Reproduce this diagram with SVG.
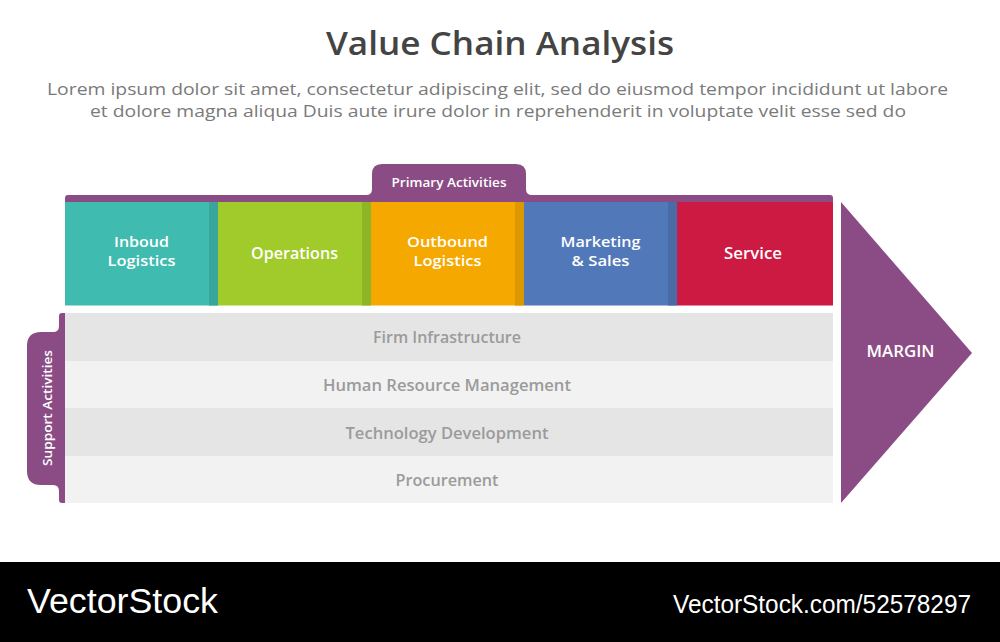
<svg xmlns="http://www.w3.org/2000/svg" width="1000" height="642" viewBox="0 0 1000 642">
  <style>
    .title{font-family:"Open Sans","Noto Sans",sans-serif;font-weight:600;font-size:32px;fill:#444444}
    .sub{font-family:"Open Sans","Noto Sans",sans-serif;font-weight:400;font-size:17px;fill:#7a7a7a}
    .lbl{font-family:"Open Sans","Noto Sans",sans-serif;font-weight:600;font-size:15.5px;fill:#ffffff}
    .lbl2{font-family:"Open Sans","Noto Sans",sans-serif;font-weight:600;font-size:14px;fill:#ffffff}
    .tab{font-family:"Open Sans","Noto Sans",sans-serif;font-weight:600;font-size:12.5px;fill:#ffffff}
    .row{font-family:"Open Sans","Noto Sans",sans-serif;font-weight:600;font-size:15.5px;fill:#9b9b9b}
    .brand{font-family:"Liberation Sans",Arial,sans-serif;fill:#ffffff}
    .purple{fill:#8b4c85}
  </style>
  <rect width="1000" height="642" fill="#ffffff"/>

  <g id="header">
    <text class="title" x="500" y="55" text-anchor="middle" textLength="348" lengthAdjust="spacingAndGlyphs">Value Chain Analysis</text>
    <text class="sub" x="497.5" y="95" text-anchor="middle" textLength="901" lengthAdjust="spacingAndGlyphs">Lorem ipsum dolor sit amet, consectetur adipiscing elit, sed do eiusmod tempor incididunt ut labore</text>
    <text class="sub" x="498" y="117" text-anchor="middle" textLength="816" lengthAdjust="spacingAndGlyphs">et dolore magna aliqua Duis aute irure dolor in reprehenderit in voluptate velit esse sed do</text>
  </g>

  <g id="primary-activities">
    <rect class="purple" x="65" y="195" width="768" height="10" rx="3"/>
    <path class="purple" d="M366,195 Q372,195 372,189 V174 Q372,164 382,164 H516 Q526,164 526,174 V189 Q526,195 532,195 Z"/>
    <text class="tab" x="449" y="187" text-anchor="middle" textLength="115" lengthAdjust="spacingAndGlyphs">Primary Activities</text>
  </g>

  <g id="inbound-logistics">
    <rect x="65" y="202" width="153" height="103.5" fill="#40bbaf"/>
    <rect x="209" y="202" width="9" height="103.5" fill="#38a69b"/>
    <text class="lbl2" x="141.5" y="246.5" text-anchor="middle" textLength="55" lengthAdjust="spacingAndGlyphs">Inboud</text>
    <text class="lbl2" x="141.5" y="265.5" text-anchor="middle" textLength="68" lengthAdjust="spacingAndGlyphs">Logistics</text>
  </g>
  <g id="operations">
    <rect x="218" y="202" width="153" height="103.5" fill="#a0cb2a"/>
    <rect x="362" y="202" width="9" height="103.5" fill="#8db526"/>
    <text class="lbl" x="294.5" y="258.5" text-anchor="middle" textLength="87" lengthAdjust="spacingAndGlyphs">Operations</text>
  </g>
  <g id="outbound-logistics">
    <rect x="371" y="202" width="153" height="103.5" fill="#f5a800"/>
    <rect x="515" y="202" width="9" height="103.5" fill="#dd9800"/>
    <text class="lbl2" x="447.5" y="246.5" text-anchor="middle" textLength="81" lengthAdjust="spacingAndGlyphs">Outbound</text>
    <text class="lbl2" x="447.5" y="265.5" text-anchor="middle" textLength="68" lengthAdjust="spacingAndGlyphs">Logistics</text>
  </g>
  <g id="marketing-sales">
    <rect x="524" y="202" width="153" height="103.5" fill="#5178b9"/>
    <rect x="668" y="202" width="9" height="103.5" fill="#4a6ca6"/>
    <text class="lbl2" x="600.5" y="246.5" text-anchor="middle" textLength="80" lengthAdjust="spacingAndGlyphs">Marketing</text>
    <text class="lbl2" x="600.5" y="265.5" text-anchor="middle" textLength="58" lengthAdjust="spacingAndGlyphs">&amp; Sales</text>
  </g>
  <g id="service">
    <rect x="677" y="202" width="156" height="103.5" fill="#cd1a43"/>
    <text class="lbl" x="753" y="258.5" text-anchor="middle" textLength="58" lengthAdjust="spacingAndGlyphs">Service</text>
  </g>

  <g id="support-activities">
    <rect class="purple" x="59" y="313" width="9" height="190" rx="3"/>
    <path class="purple" d="M59,326 Q59,332 53,332 H41 Q27,332 27,346 V471 Q27,485 41,485 H53 Q59,485 59,491 Z"/>
    <text class="tab" transform="translate(51.5,408) rotate(-90)" x="0" y="0" text-anchor="middle" textLength="116" lengthAdjust="spacingAndGlyphs">Support Activities</text>
  </g>

  <g id="firm-infrastructure">
    <rect x="65" y="313" width="768" height="48" fill="#e5e5e5"/>
    <text class="row" x="447" y="343" text-anchor="middle" textLength="148" lengthAdjust="spacingAndGlyphs">Firm Infrastructure</text>
  </g>
  <g id="human-resource-management">
    <rect x="65" y="361" width="768" height="47" fill="#f2f2f2"/>
    <text class="row" x="447" y="391" text-anchor="middle" textLength="248" lengthAdjust="spacingAndGlyphs">Human Resource Management</text>
  </g>
  <g id="technology-development">
    <rect x="65" y="408" width="768" height="48" fill="#e5e5e5"/>
    <text class="row" x="447" y="439" text-anchor="middle" textLength="203" lengthAdjust="spacingAndGlyphs">Technology Development</text>
  </g>
  <g id="procurement">
    <rect x="65" y="456" width="768" height="47" fill="#f2f2f2"/>
    <text class="row" x="447" y="486" text-anchor="middle" textLength="103" lengthAdjust="spacingAndGlyphs">Procurement</text>
  </g>

  <g id="margin">
    <polygon class="purple" points="841,202 972,353 841,503"/>
    <text class="lbl" x="900.5" y="356.5" text-anchor="middle" textLength="68" lengthAdjust="spacingAndGlyphs">MARGIN</text>
  </g>

  <g id="connectors"></g>

  <g id="footer">
    <rect x="0" y="562" width="1000" height="80" fill="#000000"/>
    <text class="brand" x="27" y="613" font-size="35" textLength="191" lengthAdjust="spacingAndGlyphs">VectorStock</text>
    <text class="brand" x="971" y="613" font-size="26" text-anchor="end" textLength="298" lengthAdjust="spacingAndGlyphs">VectorStock.com/52578297</text>
  </g>
</svg>
